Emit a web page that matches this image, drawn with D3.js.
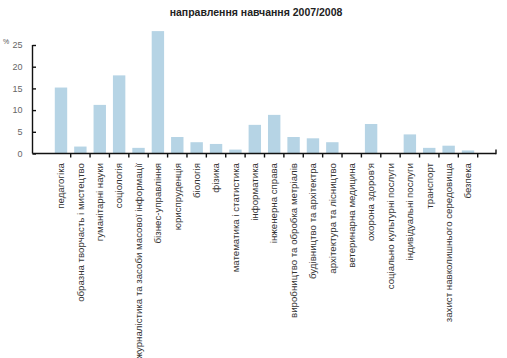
<!DOCTYPE html>
<html>
<head>
<meta charset="utf-8">
<script src="https://cdn.jsdelivr.net/npm/d3@7"></script>
<style>
  body { margin: 0; background: #fff; }
  svg { display: block; }
  text { font-family: "Liberation Sans", Arial, sans-serif; }
</style>
</head>
<body>
<svg id="chart" width="507" height="358"></svg>
<script>
const categories = [
  "педагогіка",
  "образна творчасть і мистецтво",
  "гуманітарні науки",
  "соціологія",
  "журналістика та засоби масової інформації",
  "бізнес-управління",
  "юриспруденція",
  "біологія",
  "фізика",
  "математика і статистика",
  "інформатика",
  "інженерна справа",
  "виробництво та обробка метріалів",
  "будівництво та архітектра",
  "архітектура та лісництво",
  "ветеринарна медицина",
  "охорона здоров'я",
  "соціально культурні послуги",
  "індивідуальні послуги",
  "транспорт",
  "захист навколишнього середовища",
  "безпека"
];
const values = [15.2, 1.6, 11.2, 18.0, 1.3, 28.2, 3.8, 2.6, 2.2, 0.9, 6.6, 8.9, 3.8, 3.5, 2.6, 0, 6.8, 0, 4.4, 1.3, 1.8, 0.7];
const yTicks = [0, 5, 10, 15, 20, 25];
const title = "направлення навчання 2007/2008";
const unitLabel = "%";

const svg = d3.select("#chart");
const axisX0 = 32.5, axisX1 = 496, y0 = 153.5;

const x = d3.scaleBand().domain(categories).range([51.3, 477.7]).paddingInner(0.36).paddingOuter(0.18);
const y = d3.scaleLinear().domain([0, 25]).range([y0, 45]);

// title
svg.append("text").attr("x", 256).attr("y", 16).attr("text-anchor", "middle")
  .attr("font-size", "10.5px").attr("font-weight", "bold").attr("fill", "#222").text(title);

// bars
svg.append("g").selectAll("rect").data(values).join("rect")
  .attr("x", (d, i) => x(categories[i]))
  .attr("width", x.bandwidth())
  .attr("y", d => y(d))
  .attr("height", d => y(0) - y(d))
  .attr("fill", "#b6d4e5");

// y axis
const yAxis = d3.axisLeft(y).tickValues(yTicks).tickSize(-3.5).tickPadding(10);
const gy = svg.append("g").attr("transform", `translate(${axisX0},0)`).call(yAxis);
gy.select(".domain").remove();
gy.append("line").attr("x1", 0).attr("x2", 0).attr("y1", y(25)).attr("y2", y0).attr("stroke", "#111").attr("stroke-width", 1.4);
gy.selectAll(".tick line").attr("stroke", "#111").attr("stroke-width", 1.4);
gy.selectAll(".tick text").attr("fill", "#666").attr("font-size", "9px")
  .attr("font-family", "'Liberation Sans', Arial, sans-serif");

svg.append("text").attr("x", 3).attr("y", 44).attr("font-size", "7px").attr("fill", "#555").text(unitLabel);

// x axis
const gx = svg.append("g");
gx.append("line").attr("x1", axisX0).attr("x2", axisX1).attr("y1", y0).attr("y2", y0)
  .attr("stroke", "#111").attr("stroke-width", 1.4);
gx.append("line").attr("x1", axisX1).attr("x2", axisX1).attr("y1", y0 + 0.7).attr("y2", y0 - 4)
  .attr("stroke", "#111").attr("stroke-width", 1.4);
gx.selectAll("line.tk").data(categories).join("line").attr("class", "tk")
  .attr("x1", d => x(d) + x.bandwidth() + x.step() * x.paddingInner() / 2)
  .attr("x2", d => x(d) + x.bandwidth() + x.step() * x.paddingInner() / 2)
  .attr("y1", y0).attr("y2", y0 + 4)
  .attr("stroke", "#111").attr("stroke-width", 1.4);

// x labels
gx.selectAll("text").data(categories).join("text")
  .attr("transform", d => `translate(${x(d) + x.bandwidth() / 2 + 3.3},163) rotate(-90)`)
  .attr("text-anchor", "end")
  .attr("font-size", "9.7px").attr("fill", "#333")
  .text(d => d);
</script>
</body>
</html>
